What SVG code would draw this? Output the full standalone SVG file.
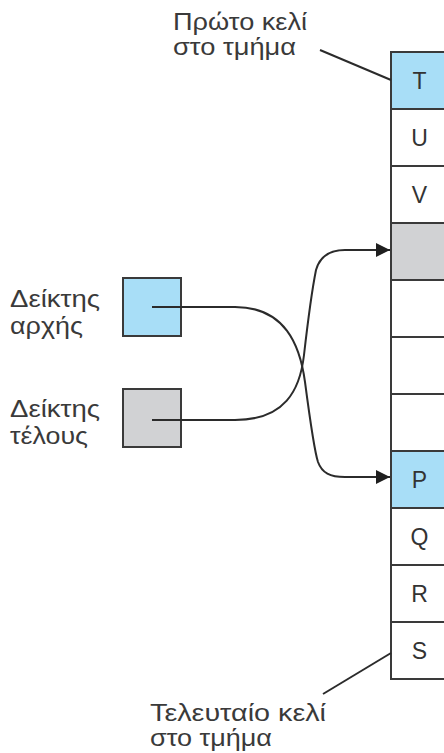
<svg xmlns="http://www.w3.org/2000/svg" width="444" height="753" viewBox="0 0 444 753">
<defs>
<style>
.lbl{font-family:"Liberation Sans",Arial,sans-serif;font-size:24px;fill:#3a3a3a}
.cell{stroke:#3a3a3a;stroke-width:2}
.ct{font-family:"Liberation Sans",Arial,sans-serif;font-size:23px;fill:#333;text-anchor:middle}
.blue{fill:#a8def7}
.gray{fill:#d1d2d4}
.white{fill:#fff}
.ln{fill:none;stroke:#2b2b2b;stroke-width:2}
</style>
<marker id="ah" viewBox="0 0 14 14" refX="14" refY="7" markerWidth="14" markerHeight="14" markerUnits="userSpaceOnUse" orient="auto">
<path d="M0,0 L14,7 L0,14 Z" fill="#1f1f1f"/>
</marker>
</defs>
<rect width="444" height="753" fill="#fff"/>
<g id="segment">
<rect class="cell blue" x="391" y="52" width="80" height="57"/>
<rect class="cell white" x="391" y="109" width="80" height="57"/>
<rect class="cell white" x="391" y="166" width="80" height="57"/>
<rect class="cell gray" x="391" y="223" width="80" height="57"/>
<rect class="cell white" x="391" y="280" width="80" height="57"/>
<rect class="cell white" x="391" y="337" width="80" height="57"/>
<rect class="cell white" x="391" y="394" width="80" height="57"/>
<rect class="cell blue" x="391" y="451" width="80" height="57"/>
<rect class="cell white" x="391" y="508" width="80" height="57"/>
<rect class="cell white" x="391" y="565" width="80" height="57"/>
<rect class="cell white" x="391" y="622" width="80" height="57"/>
<text class="ct" x="419.5" y="89">T</text>
<text class="ct" x="419.5" y="146">U</text>
<text class="ct" x="419.5" y="203">V</text>
<text class="ct" x="419.5" y="488">P</text>
<text class="ct" x="419.5" y="545">Q</text>
<text class="ct" x="419.5" y="602">R</text>
<text class="ct" x="419.5" y="659">S</text>
</g>
<g id="first-label">
<text class="lbl" x="173" y="30" textLength="134" lengthAdjust="spacingAndGlyphs">Πρώτο κελί</text>
<text class="lbl" x="173" y="55" textLength="123" lengthAdjust="spacingAndGlyphs">στο τμήμα</text>
</g>
<g id="last-label">
<text class="lbl" x="150" y="721" textLength="176" lengthAdjust="spacingAndGlyphs">Τελευταίο κελί</text>
<text class="lbl" x="150" y="746" textLength="122" lengthAdjust="spacingAndGlyphs">στο τμήμα</text>
</g>
<g id="start-pointer">
<text class="lbl" x="10" y="307" textLength="90" lengthAdjust="spacingAndGlyphs">Δείκτης</text>
<text class="lbl" x="10" y="334" textLength="73" lengthAdjust="spacingAndGlyphs">αρχής</text>
<rect class="cell blue" x="123" y="278" width="58" height="58"/>
</g>
<g id="end-pointer">
<text class="lbl" x="10" y="417" textLength="90" lengthAdjust="spacingAndGlyphs">Δείκτης</text>
<text class="lbl" x="10" y="444" textLength="78" lengthAdjust="spacingAndGlyphs">τέλους</text>
<rect class="cell gray" x="123" y="389" width="58" height="58"/>
</g>
<g id="connectors">
<path class="ln" d="M320,50 L391,80"/>
<path class="ln" d="M323,694 L391,653"/>
<path class="ln" d="M152,307 H235 C285,307 300,345 305,382 C310,420 314,450 318,462 C322,473 330,477 345,477 H390" marker-end="url(#ah)"/>
<path class="ln" d="M152,420 H235 C285,420 300,390 304,355 C308,320 312,290 316,270 C320,256 330,250 345,250 H390" marker-end="url(#ah)"/>
</g>
</svg>
